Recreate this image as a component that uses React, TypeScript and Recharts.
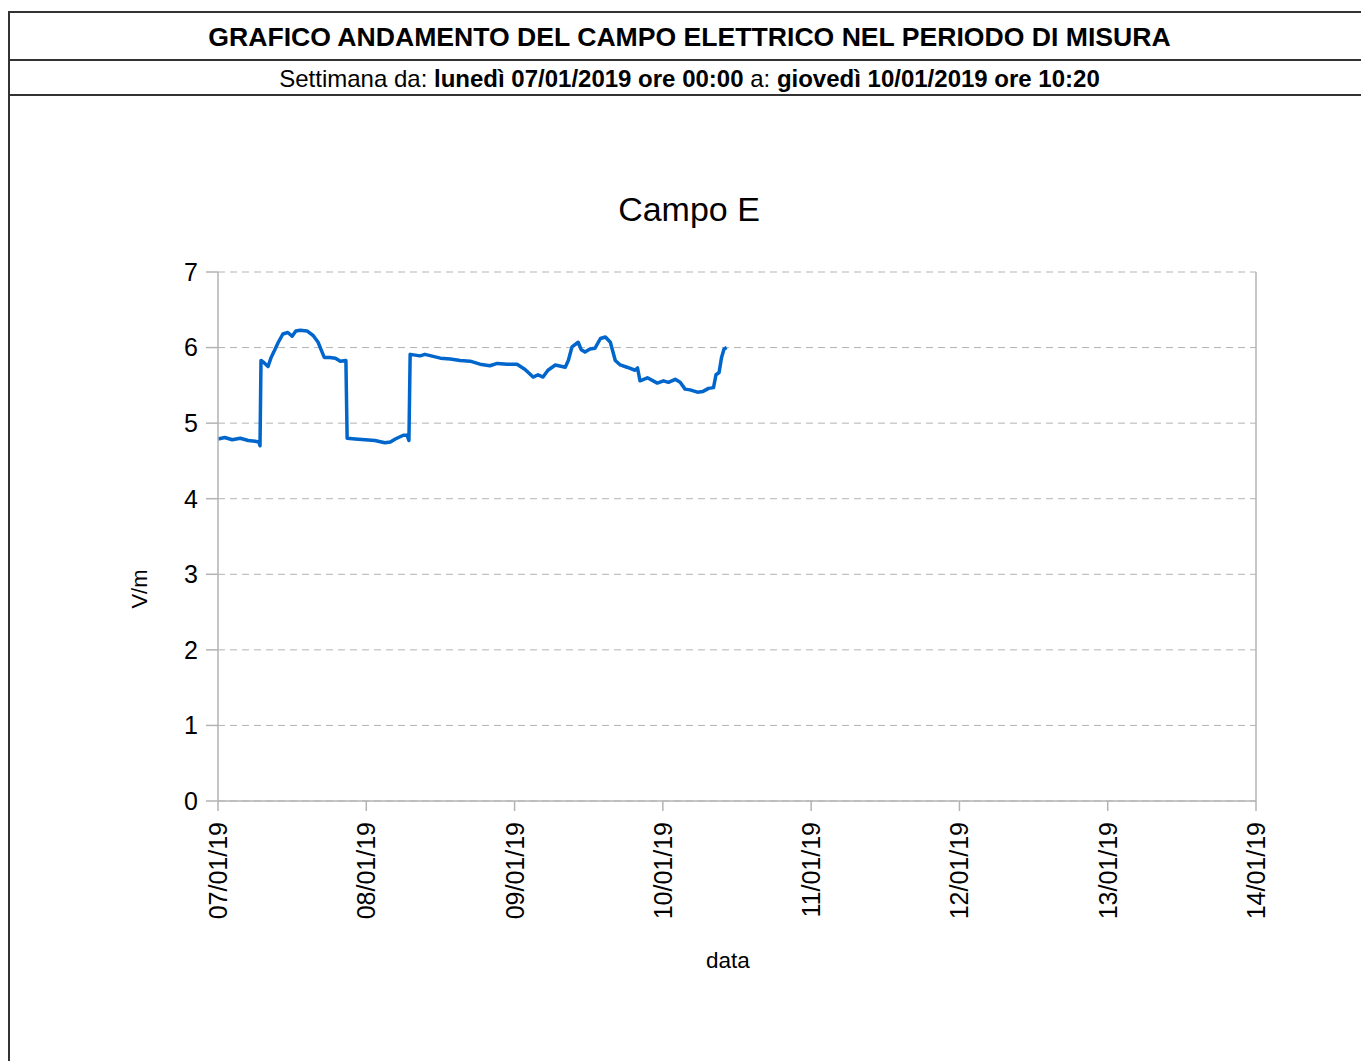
import React from 'react';
import { LineChart, Line, XAxis, YAxis, CartesianGrid, ReferenceLine } from 'recharts';

// giorni sull'asse x (ore dall'inizio settimana)
const dayTicks = [0, 24, 48, 72, 96, 120, 144, 168];
const dayLabels = ['07/01/19', '08/01/19', '09/01/19', '10/01/19', '11/01/19', '12/01/19', '13/01/19', '14/01/19'];
const yTicks = [0, 1, 2, 3, 4, 5, 6, 7];

const hours = [
  0, 1.1, 2.3, 3.6, 4.9, 6.0, 6.6, 6.8, 6.96, 7.45, 8.1, 8.6, 9.2, 9.7, 10.5, 11.3, 12.0, 12.6,
  13.3, 14.4, 15.4, 16.2, 16.7, 17.2, 18.1, 19.0, 19.8, 20.7, 20.9, 22.2, 23.8, 25.4, 27.0, 27.9,
  28.7, 30.0, 30.6, 30.9, 31.1, 32.7, 33.5, 36.0, 37.6, 39.2, 40.8, 42.4, 44.0, 45.2, 46.8, 48.4,
  49.7, 51.0, 51.8, 52.6, 53.4, 54.6, 56.2, 56.7, 57.3, 58.3, 58.8, 59.4, 60.2, 61.0, 61.9, 62.7,
  63.5, 64.3, 65.1, 66.2, 67.5, 67.9, 68.3, 69.5, 71.1, 72.1, 72.9, 74.0, 74.8, 75.6, 76.4, 77.6,
  78.5, 79.4, 80.2, 80.6, 81.1, 81.5, 81.9, 82.33,
];
const fieldE = [
  4.79, 4.81, 4.78, 4.80, 4.77, 4.76, 4.75, 4.70, 5.83, 5.80, 5.75, 5.87, 5.97, 6.06, 6.18, 6.20, 6.15, 6.22,
  6.23, 6.22, 6.16, 6.07, 5.97, 5.87, 5.87, 5.86, 5.82, 5.83, 4.80, 4.79, 4.78, 4.77, 4.74, 4.75,
  4.79, 4.84, 4.84, 4.77, 5.91, 5.89, 5.91, 5.86, 5.85, 5.83, 5.82, 5.78, 5.76, 5.79, 5.78, 5.78,
  5.71, 5.61, 5.64, 5.61, 5.70, 5.77, 5.74, 5.83, 6.01, 6.07, 5.97, 5.94, 5.98, 5.99, 6.12, 6.14,
  6.07, 5.83, 5.77, 5.74, 5.70, 5.73, 5.56, 5.60, 5.53, 5.56, 5.54, 5.58, 5.54, 5.45, 5.44, 5.41,
  5.42, 5.46, 5.47, 5.64, 5.67, 5.87, 5.98, 6.00,
];

const data = hours.map((h, i) => ({ h, v: fieldE[i] }));

const FONT = '"Liberation Sans", Arial, sans-serif';
const AXIS_GRAY = '#b3b3b3';

const DayTick = (props: any) => {
  const { x, y, payload } = props;
  const idx = dayTicks.indexOf(payload.value);
  return (
    <text
      x={x}
      y={y}
      transform={`rotate(-90 ${x} ${y})`}
      textAnchor="end"
      dominantBaseline="central"
      fontSize={25}
      fontFamily={FONT}
      fill="#000"
    >
      {dayLabels[idx]}
    </text>
  );
};

export default function App() {
  const line = '2px solid #333';
  return (
    <div style={{ position: 'absolute', left: 0, top: 0, width: 1361, height: 1061, background: '#fff', fontFamily: FONT, overflow: 'hidden' }}>
      {/* cornice */}
      <div style={{ position: 'absolute', left: 8, top: 11, right: 0, height: 0, borderTop: line }} />
      <div style={{ position: 'absolute', left: 8, top: 59, right: 0, height: 0, borderTop: line }} />
      <div style={{ position: 'absolute', left: 8, top: 94, right: 0, height: 0, borderTop: line }} />
      <div style={{ position: 'absolute', left: 8, top: 11, bottom: 0, width: 0, borderLeft: line }} />

      <div style={{ position: 'absolute', left: 18, right: 0, top: 21, textAlign: 'center', fontWeight: 'bold', fontSize: 26.6, lineHeight: '32px', color: '#000' }}>
        GRAFICO ANDAMENTO DEL CAMPO ELETTRICO NEL PERIODO DI MISURA
      </div>
      <div style={{ position: 'absolute', left: 18, right: 0, top: 64, textAlign: 'center', fontSize: 24, lineHeight: '30px', color: '#000' }}>
        Settimana da: <b>lunedì 07/01/2019 ore 00:00</b> a: <b>giovedì 10/01/2019 ore 10:20</b>
      </div>

      <div style={{ position: 'absolute', left: 0, width: 1378, top: 189, textAlign: 'center', fontSize: 34, lineHeight: '40px', color: '#000' }}>
        Campo E
      </div>

      <div style={{ position: 'absolute', left: 0, top: 0 }}>
        <LineChart
          width={1361}
          height={1061}
          data={data}
          margin={{ top: 272, right: 105, bottom: 200, left: 158 }}
        >
          <CartesianGrid vertical={false} stroke={AXIS_GRAY} strokeDasharray="7 5" />
          <ReferenceLine x={168} stroke={AXIS_GRAY} strokeWidth={1.5} ifOverflow="extendDomain" />
          <XAxis
            dataKey="h"
            type="number"
            domain={[0, 168]}
            ticks={dayTicks}
            interval={0}
            height={60}
            tickSize={10}
            tickMargin={11}
            stroke={AXIS_GRAY}
            strokeWidth={1.5}
            tick={<DayTick />}
          />
          <YAxis
            type="number"
            domain={[0, 7]}
            ticks={yTicks}
            interval={0}
            width={60}
            tickSize={12}
            tickMargin={8}
            stroke={AXIS_GRAY}
            strokeWidth={1.5}
            tick={{ fontSize: 25, fontFamily: FONT, fill: '#000' }}
          />
          <Line
            type="linear"
            dataKey="v"
            stroke="#0066cc"
            strokeWidth={3.5}
            strokeLinejoin="round"
            dot={false}
            isAnimationActive={false}
          />
        </LineChart>
      </div>

      {/* titoli degli assi */}
      <div style={{ position: 'absolute', left: 140, top: 589, width: 0, height: 0 }}>
        <div style={{ position: 'absolute', transform: 'translate(-50%, -50%) rotate(-90deg)', fontSize: 22, whiteSpace: 'nowrap', color: '#000' }}>
          V/m
        </div>
      </div>
      <div style={{ position: 'absolute', left: 628, width: 200, top: 947, textAlign: 'center', fontSize: 22.5, lineHeight: '28px', color: '#000' }}>
        data
      </div>
    </div>
  );
}
